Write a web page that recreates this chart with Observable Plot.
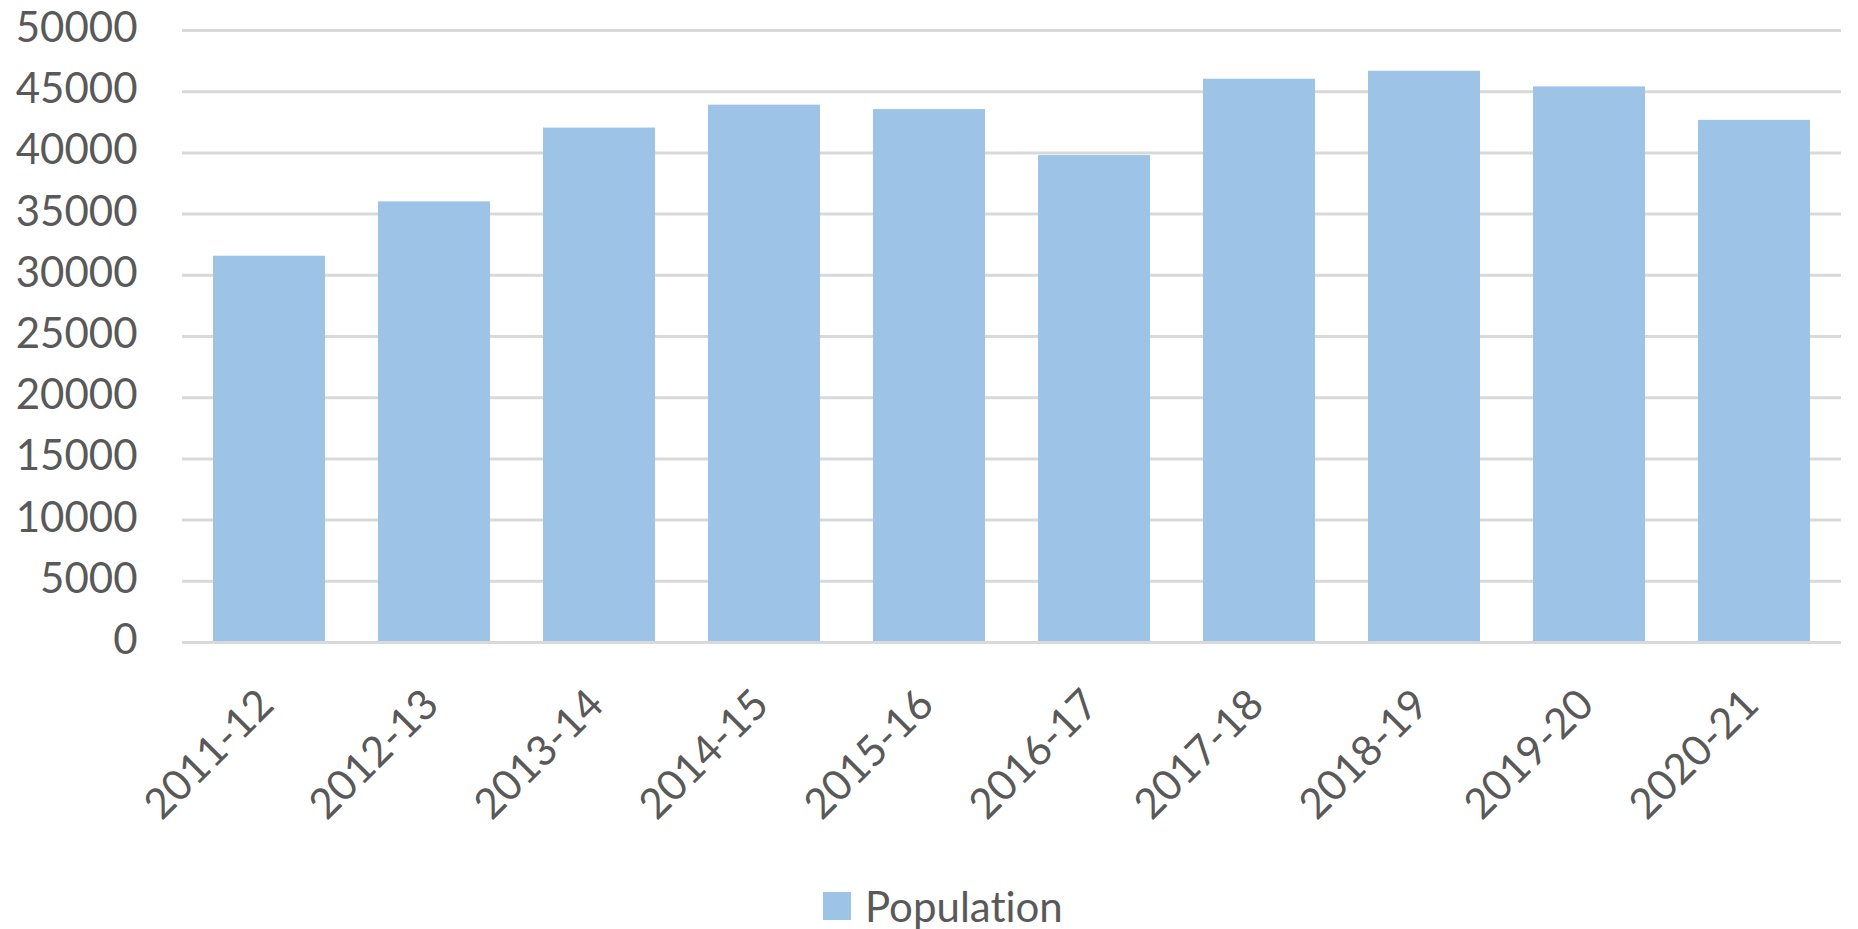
<!DOCTYPE html>
<html>
<head>
<meta charset="utf-8">
<script src="https://cdn.jsdelivr.net/npm/d3@7"></script>
<script src="https://cdn.jsdelivr.net/npm/@observablehq/plot@0.6"></script>
<style>
  html, body { margin: 0; padding: 0; background: #fff; }
  #chart svg { display: block; font-variant-ligatures: none; }
  #legend { display: flex; align-items: center; height: 62px; padding-left: 823px; gap: 14px;
            font-family: Lato, "Open Sans", sans-serif; font-size: 42px; color: #595959;
            font-variant-ligatures: none; font-feature-settings: "liga" 0, "clig" 0; }
  #legend .sw { width: 28px; height: 28px; background: #9dc3e6; }
</style>
</head>
<body>
<div id="chart"></div>
<div id="legend"><div class="sw"></div><span>Population</span></div>
<script>
const categories = ["2011-12", "2012-13", "2013-14", "2014-15", "2015-16", "2016-17", "2017-18", "2018-19", "2019-20", "2020-21"];
const population = [31560, 36000, 42030, 43900, 43540, 39780, 46020, 46670, 45390, 42660];
const yTicks = [0, 5000, 10000, 15000, 20000, 25000, 30000, 35000, 40000, 45000, 50000];

const data = categories.map((c, i) => ({ category: c, value: population[i] }));

const chart = Plot.plot({
  width: 1858,
  height: 875,
  marginLeft: 182,
  marginRight: 17,
  marginTop: 30,
  marginBottom: 233,
  style: { fontFamily: "Lato, 'Open Sans', sans-serif", fontSize: "42px", color: "#595959", background: "#fff" },
  x: { domain: categories, paddingInner: 0.32, paddingOuter: 0.16, axis: null },
  y: { domain: [0, 50000], ticks: yTicks, tickFormat: d => String(d), tickSize: 0, tickPadding: 45, label: null },
  marks: [
    Plot.ruleY(yTicks.filter(t => t > 0), { stroke: "#d9d9d9", strokeWidth: 3 }),
    Plot.barY(data, { x: "category", y: "value", fill: "#9dc3e6" }),
    Plot.ruleY([0], { stroke: "#d9d9d9", strokeWidth: 3 }),
    Plot.axisY({ ticks: yTicks, tickFormat: d => String(d), tickSize: 0, tickPadding: 45, label: null, dy: -2, fill: "#595959" }),
    Plot.text(categories, { x: d => d, frameAnchor: "bottom", rotate: -45, textAnchor: "end", lineAnchor: "middle", dx: -3, dy: 55, fill: "#595959" })
  ]
});
document.getElementById("chart").appendChild(chart);
</script>
</body>
</html>
